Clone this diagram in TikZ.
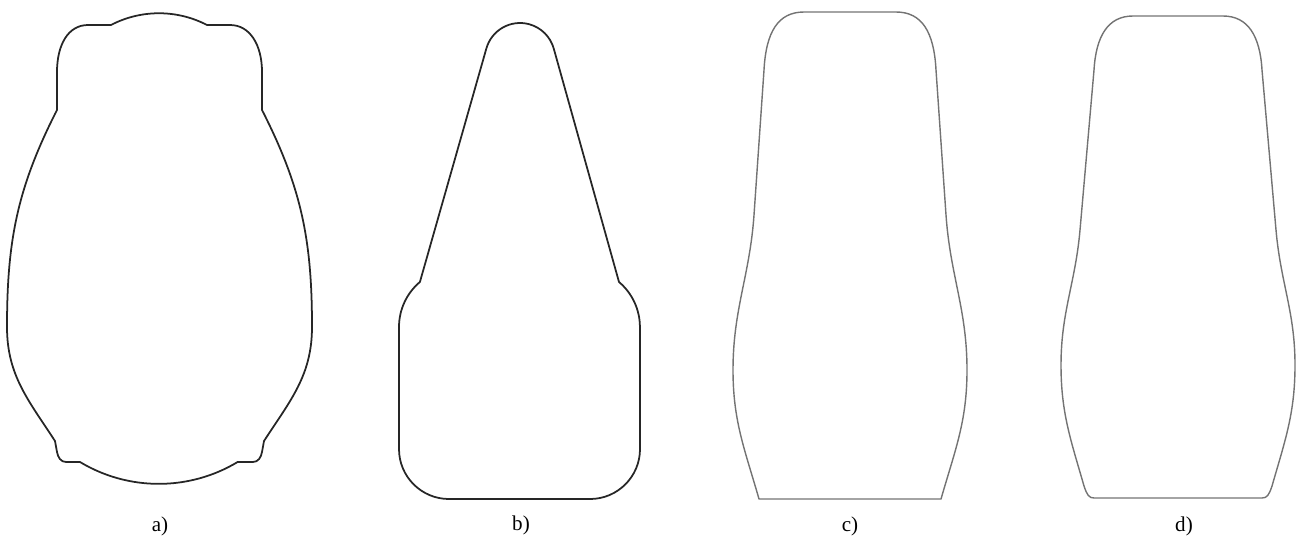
\documentclass[tikz,border=0pt]{standalone}
\usepackage{fontspec}
\setmainfont{Liberation Serif}
\usetikzlibrary{positioning}
\tikzset{
  contour/.style={draw=black!85, line width=1pt, line join=round},
  contourthin/.style={draw=black!55, line width=0.8pt, line join=round},
  sublabel/.style={font=\fontsize{12}{14}\selectfont, inner sep=0pt}
}
\begin{document}
\begin{tikzpicture}[x=0.2mm, y=0.2mm]
  \useasboundingbox (0,0) rectangle (1301,-540);

  % a) pear outline with notches
  \draw[contour] (110,-25) -- (88,-25) .. controls (68,-25) and (57,-45) .. (57,-72)
    -- (57,-110) to[out=243,in=90] (7,-327) to[out=270,in=123] (55,-441)
    -- (57,-452) to[out=-80,in=180] (66,-462) -- (80,-462)
    arc[start angle=239, end angle=301, radius=153]
    -- (253,-462) to[out=0,in=-100] (262,-452) -- (264,-441)
    to[out=57,in=270] (312,-327) to[out=90,in=-63] (262,-110)
    -- (262,-72) .. controls (262,-45) and (250,-25) .. (230,-25)
    -- (207,-25) arc[start angle=62.5, end angle=117.5, radius=104] -- cycle;

  % b) cone on a rounded block
  \draw[contour] (486.3,-48.7) arc[start angle=164.6, end angle=15.4, radius=35]
    -- (619,-282) arc[start angle=49.8, end angle=0, radius=59]
    -- (640,-449) arc[start angle=0, end angle=-90, radius=50]
    -- (449,-499) arc[start angle=270, end angle=180, radius=50]
    -- (399,-327) arc[start angle=180, end angle=130.2, radius=59] -- cycle;

  % c)
  \draw[contourthin] (804,-12) -- (896,-12) .. controls (922,-12) and (934,-32) .. (936,-70)
    -- (946,-215) to[out=-86,in=90] (967,-370) to[out=-90,in=74] (941,-499)
    -- (759,-499) to[out=106,in=-90] (733,-370) to[out=90,in=-94] (754,-215)
    -- (764,-70) .. controls (766,-32) and (778,-12) .. (804,-12) -- cycle;

  % d)
  \draw[contourthin] (1133,-16) -- (1223,-16) .. controls (1248,-16) and (1260,-36) .. (1262,-70)
    -- (1276,-230) to[out=-85,in=90] (1295,-365) to[out=-90,in=74] (1272,-486)
    .. controls (1269,-495) and (1267,-498) .. (1262,-498)
    -- (1094,-498) .. controls (1089,-498) and (1087,-495) .. (1084,-486)
    to[out=106,in=-90] (1061,-365) to[out=90,in=-95] (1080,-230)
    -- (1094,-70) .. controls (1096,-36) and (1108,-16) .. (1133,-16) -- cycle;

  \node[sublabel] (lbla) at (160,-526) {a)};
  \node[sublabel] (lblb) at (521,-525) {b)};
  \node[sublabel] (lblc) at (850,-526) {c)};
  \node[sublabel] (lbld) at (1184,-526) {d)};
\end{tikzpicture}
\end{document}
